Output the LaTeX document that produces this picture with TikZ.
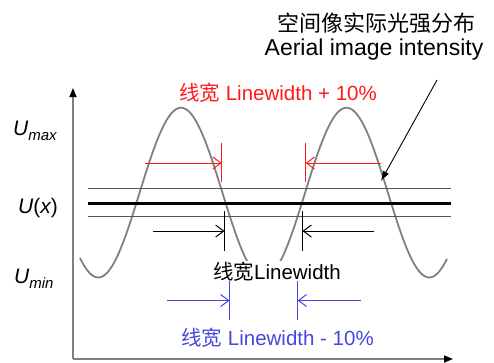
\documentclass[tikz,border=0pt]{standalone}
\usepackage{fontspec}
\setmainfont{Liberation Sans}
\newfontfamily\cjk{Noto Sans CJK SC}
\usetikzlibrary{arrows.meta, positioning}
\definecolor{curvegray}{RGB}{128,128,128}
\definecolor{levelgray}{RGB}{85,85,85}
\definecolor{widered}{RGB}{255,25,25}
\definecolor{narrowblue}{RGB}{70,70,225}

\begin{document}
\begin{tikzpicture}[x=1pt, y=-1pt, every node/.style={font=\fontsize{20.5}{22}\selectfont, inner sep=0pt},
    dimarrow/.style={-{Straight Barb[length=8pt, width=12pt]}, line width=1pt},
    edgemark/.style={line width=1.2pt}]
\useasboundingbox (0,0) rectangle (494,362);
% axes
\coordinate (o) at (73,359);
\coordinate (ytop) at (73,88);
\coordinate (xend) at (453,359);
\draw[curvegray, line width=1.5pt, -{Triangle[color=black, length=9pt, width=7pt]}] (o) -- (ytop);
\draw[curvegray, line width=1.5pt, -{Triangle[color=black, length=9pt, width=7pt]}] (o) -- (xend);
% aerial image
\draw[curvegray, line width=1.8pt] plot[domain=80:447, samples=160, smooth] (\x, {192.6-84.9*cos(2.17523*(\x-181))});
% threshold levels
\coordinate (lvlA) at (88,188); \coordinate (lvlA') at (451,188);
\coordinate (lvlB) at (88,203); \coordinate (lvlB') at (451,203);
\coordinate (lvlC) at (88,216); \coordinate (lvlC') at (451,216);
\draw[levelgray, line width=1pt] (lvlA) -- (lvlA');
\draw[black, line width=3pt] (lvlB) -- (lvlB');
\draw[levelgray, line width=1pt] (lvlC) -- (lvlC');
% labels on the axis
\node[anchor=base west, font=\fontsize{21}{22}\selectfont] (umax) at (13,135) {\itshape U\raisebox{-5pt}{\fontsize{15}{16}\selectfont max}};
\node[anchor=base west, font=\fontsize{21}{22}\selectfont] (ux) at (18,213) {{\itshape U}({\itshape x})};
\node[anchor=base west, font=\fontsize{21}{22}\selectfont] (umin) at (14,283) {\itshape U\raisebox{-5pt}{\fontsize{15}{16}\selectfont min}};
% linewidth + 10%
\coordinate (redL) at (221.7,163); \coordinate (redLs) at (145,163);
\coordinate (redR) at (305.7,163); \coordinate (redRs) at (381,163);
\draw[widered, edgemark] (221.7,143) -- (221.7,182);
\draw[widered, edgemark] (305.7,143) -- (305.7,182);
\draw[widered, dimarrow] (redLs) -- (redL);
\draw[widered, dimarrow] (redRs) -- (redR);
\node[widered] (wide) at (278,93) {{\cjk 线宽} Linewidth + 10\%};
% nominal linewidth
\coordinate (midL) at (224.5,231); \coordinate (midLs) at (153,231);
\coordinate (midR) at (302.5,231); \coordinate (midRs) at (374,231);
\draw[black, edgemark] (224.5,211) -- (224.5,251);
\draw[black, edgemark] (302.5,211) -- (302.5,251);
\draw[black, dimarrow] (midLs) -- (midL);
\draw[black, dimarrow] (midRs) -- (midR);
\node[fill=white, inner sep=1pt] (nominal) at (277,272) {{\cjk 线宽}Linewidth};
% linewidth - 10%
\coordinate (bluL) at (229.5,300.5); \coordinate (bluLs) at (167,300.5);
\coordinate (bluR) at (297.7,300.5); \coordinate (bluRs) at (361,300.5);
\draw[narrowblue, edgemark] (229.5,281) -- (229.5,320);
\draw[narrowblue, edgemark] (297.7,281) -- (297.7,320);
\draw[narrowblue, dimarrow] (bluLs) -- (bluL);
\draw[narrowblue, dimarrow] (bluRs) -- (bluR);
\node[narrowblue] (narrow) at (277.5,338) {{\cjk 线宽} Linewidth - 10\%};
% aerial image caption
\node[font=\fontsize{22}{24}\selectfont] (titlecn) at (376,23) {\cjk 空间像实际光强分布};
\node[font=\fontsize{23}{24}\selectfont] (titleen) at (374,50) {Aerial image intensity};
\coordinate (ptr) at (437,80);
\coordinate (oncurve) at (381,181);
\draw[-{Latex[length=10pt, width=7pt]}, line width=0.9pt] (ptr) -- (oncurve);
\end{tikzpicture}
\end{document}
